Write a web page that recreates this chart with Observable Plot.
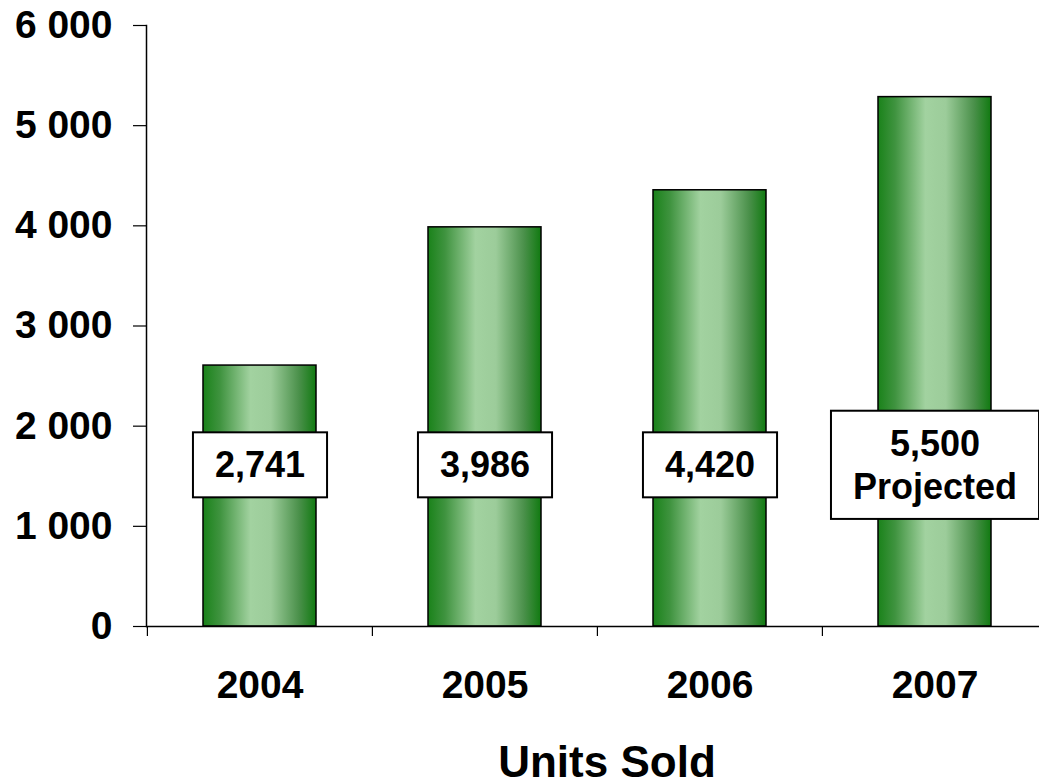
<!DOCTYPE html>
<html><head><meta charset="utf-8">
<script src="https://cdn.jsdelivr.net/npm/d3@7"></script>
<script src="https://cdn.jsdelivr.net/npm/@observablehq/plot@0.6"></script>
<style>body{margin:0;background:#fff;overflow:hidden;}</style>
</head><body><div id="chart"></div>
<script>
const years = ["2004", "2005", "2006", "2007"];
const unitsBar = [2605, 3985, 4355, 5285];
const labels = ["2,741", "3,986", "4,420", "5,500\nProjected"];
const yTicks = [0, 1000, 2000, 3000, 4000, 5000, 6000];
const axisTitle = "Units Sold";

const data = years.map((y, i) => ({year: y, units: unitsBar[i], label: labels[i]}));
const fmt = d3.formatLocale({thousands: " ", grouping: [3], decimal: ".", currency: ["", ""]}).format(",");
const FONT = "'Liberation Sans', Arial, Helvetica, sans-serif";

const chart = Plot.plot({
  width: 1039, height: 784,
  marginLeft: 146, marginRight: 0, marginTop: 25, marginBottom: 158,
  style: {fontFamily: FONT, color: "#000", background: "#fff", overflow: "visible"},
  x: {domain: years, range: [146, 1047], paddingInner: 0.5, paddingOuter: 0.25, label: null},
  y: {domain: [0, 6000], label: null},
  marks: [
    Plot.barY(data, {x: "year", y: "units", fill: "url(#barGrad)", stroke: "#000", strokeWidth: 1.5}),
    Plot.frame({anchor: "left", stroke: "#000", strokeWidth: 1.5}),
    Plot.ruleY([0], {stroke: "#000", strokeWidth: 1.5}),
    Plot.axisY({ticks: yTicks, tickSize: 13, tickPadding: 21, tickFormat: fmt, fontSize: 39, fontWeight: "bold", stroke: "#000", strokeWidth: 1.2, label: null}),
    Plot.axisX({tickSize: 10, dx: -112.6, fill: "none", stroke: "#000", strokeWidth: 1.2, label: null}),
    Plot.axisX({tickSize: 0, tickPadding: 44, fontSize: 39, fontWeight: "bold", label: null}),
    Plot.text(data, {x: "year", text: "label", frameAnchor: "bottom", lineAnchor: "middle", dy: -163, fontSize: 36, fontWeight: "bold", lineHeight: 1.2, fill: "#000", className: "vlabel"}),
    Plot.text([axisTitle], {text: d => d, frameAnchor: "bottom", lineAnchor: "middle", dy: 136, dx: 14, fontSize: 44, fontWeight: "bold", fill: "#000"})
  ]
});

document.getElementById("chart").appendChild(chart);
const svg = chart.tagName.toLowerCase() === "svg" ? chart : chart.querySelector("svg");
const ns = "http://www.w3.org/2000/svg";
const defs = document.createElementNS(ns, "defs");
defs.innerHTML = `<linearGradient id="barGrad" x1="0" x2="1" y1="0" y2="0">
  <stop offset="0" stop-color="#1a821a"/>
  <stop offset="0.15" stop-color="#3f933f"/>
  <stop offset="0.42" stop-color="#a2d2a0"/>
  <stop offset="0.6" stop-color="#9ccc9a"/>
  <stop offset="0.85" stop-color="#4a904a"/>
  <stop offset="1" stop-color="#117a11"/>
</linearGradient>`;
svg.insertBefore(defs, svg.firstChild);

// white boxes behind value labels, sized from the rendered text
svg.querySelectorAll("g.vlabel text").forEach(t => {
  const b = t.getBBox();
  const padX = 22, padY = 12;
  const r = document.createElementNS(ns, "rect");
  r.setAttribute("x", b.x - padX);
  r.setAttribute("y", b.y - padY);
  r.setAttribute("width", b.width + 2 * padX);
  r.setAttribute("height", b.height + 2 * padY);
  r.setAttribute("fill", "#fff");
  r.setAttribute("stroke", "#000");
  r.setAttribute("stroke-width", 2);
  const tr = t.getAttribute("transform");
  if (tr) r.setAttribute("transform", tr);
  t.parentNode.insertBefore(r, t);
});
</script>
</body></html>
